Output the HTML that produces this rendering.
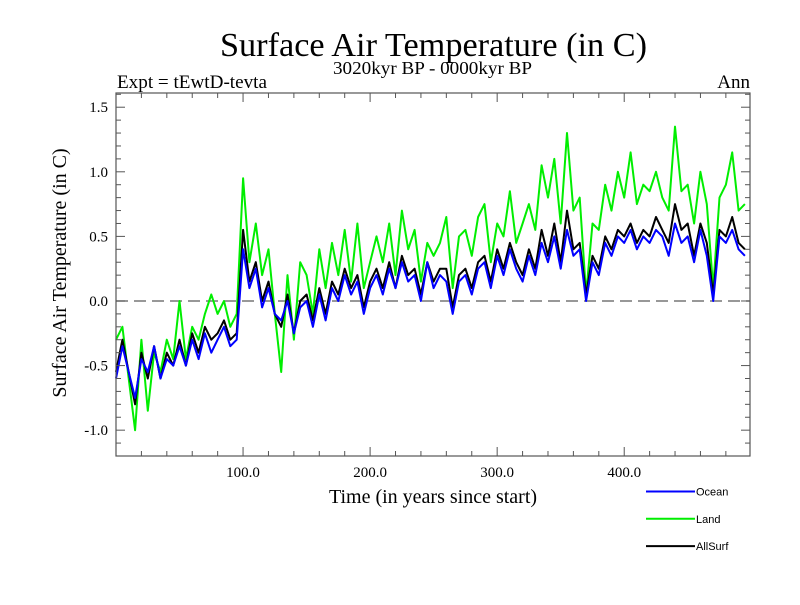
<!DOCTYPE html>
<html><head><meta charset="utf-8"><style>
body{margin:0;background:#fff;}
</style></head><body>
<svg id="chart" width="800" height="600" xmlns="http://www.w3.org/2000/svg" style="font-family:'Liberation Serif',serif">
<rect width="800" height="600" fill="#fff"/>
<text x="220" y="56" font-size="34" textLength="427" lengthAdjust="spacingAndGlyphs">Surface Air Temperature (in C)</text>
<text x="117" y="88" font-size="19" textLength="150" lengthAdjust="spacingAndGlyphs">Expt = tEwtD-tevta</text>
<text x="333" y="74" font-size="18" textLength="199" lengthAdjust="spacingAndGlyphs">3020kyr BP - 0000kyr BP</text>
<text x="750" y="88" font-size="19" text-anchor="end">Ann</text>
<text transform="translate(66,273) rotate(-90)" font-size="20" text-anchor="middle">Surface Air Temperature (in C)</text>
<text x="433" y="503" font-size="20" text-anchor="middle">Time (in years since start)</text>
<g id="plot"></g>
<g id="legend"></g>
</svg>
<script>
const years=[];for(let i=0;i<100;i++)years.push(i*5);
const ocean=[-0.6,-0.35,-0.55,-0.75,-0.45,-0.55,-0.35,-0.6,-0.45,-0.5,
-0.35,-0.5,-0.3,-0.45,-0.25,-0.4,-0.3,-0.2,-0.35,-0.3,
0.4,0.1,0.25,-0.05,0.1,-0.1,-0.15,0.0,-0.25,-0.05,
0.0,-0.2,0.05,-0.15,0.1,0.0,0.2,0.05,0.15,-0.1,
0.1,0.2,0.05,0.25,0.1,0.3,0.15,0.2,0.0,0.3,
0.1,0.2,0.15,-0.1,0.15,0.2,0.05,0.25,0.3,0.1,
0.35,0.2,0.4,0.25,0.15,0.35,0.2,0.45,0.3,0.5,
0.25,0.55,0.35,0.4,0.0,0.3,0.2,0.45,0.35,0.5,
0.45,0.55,0.4,0.5,0.45,0.55,0.5,0.35,0.6,0.45,
0.5,0.3,0.55,0.35,0.0,0.5,0.45,0.55,0.4,0.35];
const land=[-0.3,-0.2,-0.6,-1.0,-0.3,-0.85,-0.4,-0.55,-0.3,-0.45,
0.0,-0.45,-0.2,-0.3,-0.1,0.05,-0.1,0.0,-0.2,-0.1,
0.95,0.3,0.6,0.2,0.4,-0.1,-0.55,0.2,-0.3,0.3,
0.2,-0.1,0.4,0.1,0.45,0.2,0.55,0.15,0.6,0.1,
0.3,0.5,0.3,0.6,0.2,0.7,0.4,0.55,0.15,0.45,
0.35,0.45,0.65,0.1,0.5,0.55,0.35,0.65,0.75,0.3,
0.6,0.5,0.85,0.45,0.6,0.75,0.55,1.05,0.8,1.1,
0.6,1.3,0.7,0.8,0.05,0.6,0.55,0.9,0.7,1.0,
0.8,1.15,0.75,0.9,0.85,1.0,0.8,0.7,1.35,0.85,
0.9,0.6,1.0,0.75,0.1,0.8,0.9,1.15,0.7,0.75];
const allsurf=[-0.55,-0.3,-0.55,-0.8,-0.4,-0.6,-0.35,-0.6,-0.4,-0.5,
-0.3,-0.5,-0.25,-0.4,-0.2,-0.3,-0.25,-0.15,-0.3,-0.25,
0.55,0.15,0.3,0.0,0.15,-0.1,-0.2,0.05,-0.25,0.0,
0.05,-0.15,0.1,-0.1,0.15,0.05,0.25,0.1,0.2,-0.05,
0.15,0.25,0.1,0.3,0.1,0.35,0.2,0.25,0.05,0.3,
0.15,0.25,0.25,-0.05,0.2,0.25,0.1,0.3,0.35,0.15,
0.4,0.25,0.45,0.3,0.2,0.4,0.25,0.55,0.35,0.6,
0.3,0.7,0.4,0.45,0.05,0.35,0.25,0.5,0.4,0.55,
0.5,0.6,0.45,0.55,0.5,0.65,0.55,0.45,0.75,0.55,
0.6,0.35,0.6,0.45,0.05,0.55,0.5,0.65,0.45,0.4];
const xTicks=[100,200,300,400];
const xTickLabels=["100.0","200.0","300.0","400.0"];
const yTicks=[-1.0,-0.5,0.0,0.5,1.0,1.5];
const yTickLabels=["-1.0","-0.5","0.0","0.5","1.0","1.5"];
const seriesNames=["Ocean","Land","AllSurf"];
const seriesColors=["#0000ff","#00ee00","#000000"];

const L=116,R=750,T=93,B=456,X0=0,X1=499,Y0=-1.2,Y1=1.61;
const sx=v=>L+(v-X0)/(X1-X0)*(R-L);
const sy=v=>B-(v-Y0)/(Y1-Y0)*(B-T);
const NS="http://www.w3.org/2000/svg";
const plot=document.getElementById('plot');
function mk(tag,attrs,parent){const e=document.createElementNS(NS,tag);for(const k in attrs)e.setAttribute(k,attrs[k]);(parent||plot).appendChild(e);return e;}

const z=mk('line',{x1:L,x2:R,y1:sy(0),y2:sy(0),stroke:'#777',"stroke-width":1.5,"stroke-dasharray":"12,6"});



function drawSeries(vals,color,name){
  const d=vals.map((v,i)=>(i?'L':'M')+sx(years[i]).toFixed(1)+','+sy(v).toFixed(1)).join('');
  const p=mk('path',{d:d,fill:'none',stroke:color,"stroke-width":2,"stroke-linejoin":"round"});
  
  
}
drawSeries(land,seriesColors[1],'land-line');
drawSeries(allsurf,seriesColors[2],'allsurf-line');
drawSeries(ocean,seriesColors[0],'ocean-line');

const fr=mk('rect',{x:L,y:T,width:R-L,height:B-T,fill:'none',stroke:'#555',"stroke-width":1.2});



for(let v=20;v<X1;v+=20){
  const major=v%100===0,len=major?9:5;
  mk('line',{x1:sx(v),x2:sx(v),y1:B,y2:B-len,stroke:'#555'});
  mk('line',{x1:sx(v),x2:sx(v),y1:T,y2:T+len,stroke:'#555'});
}
xTicks.forEach((v,i)=>{
  const t=mk('text',{x:sx(v),y:B+21,"font-size":15,"text-anchor":"middle"});
  t.textContent=xTickLabels[i];
  
  
});
for(let k=-11;k<=16;k++){
  const v=k/10,major=k%5===0,len=major?9:5;
  mk('line',{x1:L,x2:L+len,y1:sy(v),y2:sy(v),stroke:'#555'});
  mk('line',{x1:R,x2:R-len,y1:sy(v),y2:sy(v),stroke:'#555'});
}
yTicks.forEach((v,i)=>{
  const t=mk('text',{x:L-8,y:sy(v)+5,"font-size":15,"text-anchor":"end"});
  t.textContent=yTickLabels[i];
  
  
});
const lg=document.getElementById('legend');
seriesNames.forEach((n,i)=>{
  const y=491.5+i*27.3;
  const l=mk('line',{x1:646,x2:695,y1:y,y2:y,stroke:seriesColors[i],"stroke-width":2},lg);
  
  
  const t=mk('text',{x:696,y:y+4,"font-size":11,style:"font-family:'Liberation Sans',sans-serif"},lg);
  t.textContent=n;
  
  
});
</script>
</body></html>
